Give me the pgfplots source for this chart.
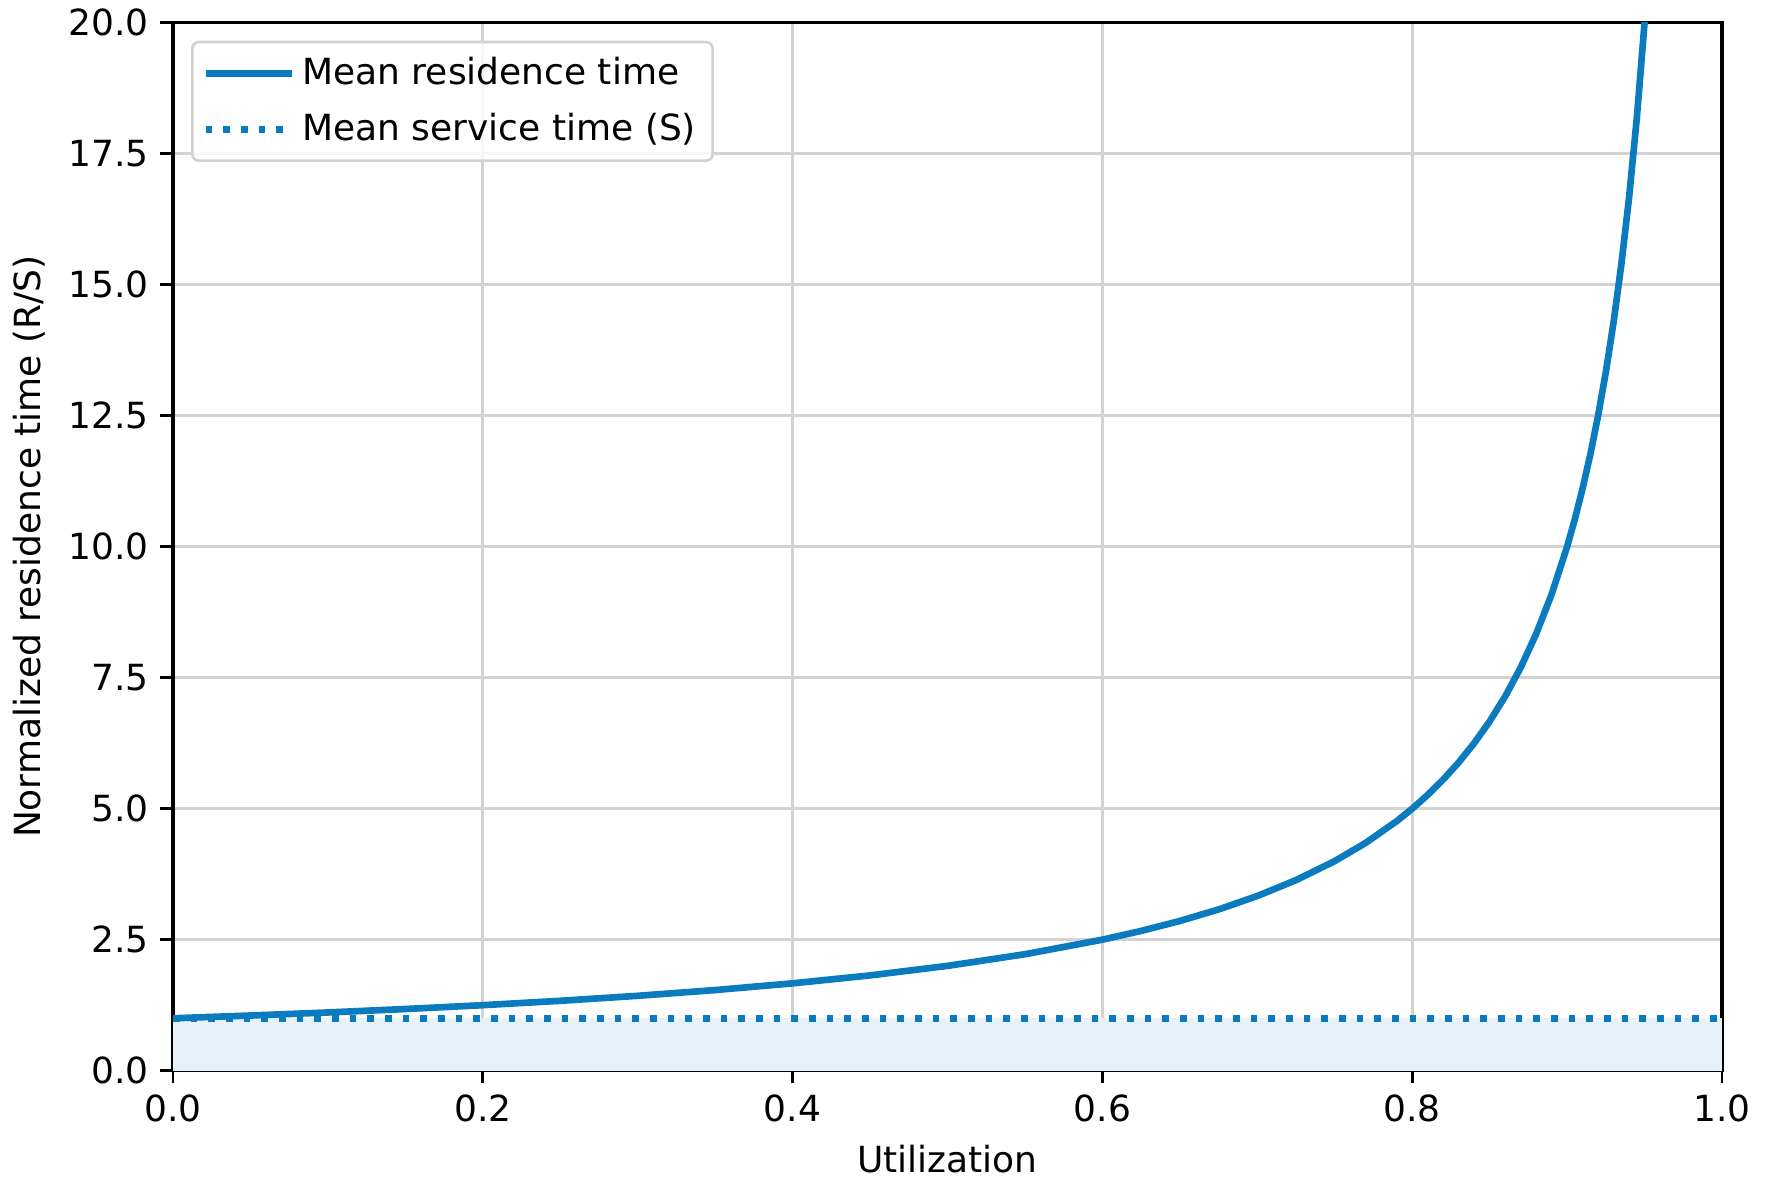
\documentclass[border=0pt]{standalone}
\usepackage{pgfplots}
\pgfplotsset{compat=1.18}
\usepackage{fontspec}
\setmainfont{DejaVu Sans}
\definecolor{mblue}{HTML}{0A7BBE}
\definecolor{gridc}{HTML}{D3D3D3}
\definecolor{fillc}{HTML}{E6F1F8}
\begin{document}
\begin{tikzpicture}
\begin{axis}[
  at={(0,0)}, anchor=south west,
  width=464.7pt, height=314.4pt, scale only axis,
  xmin=0, xmax=1, ymin=0, ymax=20,
  xtick={0,0.2,0.4,0.6,0.8,1.0},
  ytick={0,2.5,5,7.5,10,12.5,15,17.5,20},
  xticklabel style={/pgf/number format/.cd, fixed, fixed zerofill, precision=1},
  yticklabel style={/pgf/number format/.cd, fixed, fixed zerofill, precision=1},
  /pgf/number format/assume math mode=true,
  ticklabel style={font=\fontsize{10.8}{13}\selectfont},
  tick align=outside, major tick length=3.8pt,
  tick style={black, line width=0.8pt},
  xtick pos=bottom, ytick pos=left,
  grid=major, major grid style={gridc, line width=0.8pt},
  axis line style={black, line width=1pt},
  xlabel={Utilization}, ylabel={Normalized residence time (R/S)},
  label style={font=\fontsize{10.8}{13}\selectfont},
  title={Residence time vs Utilization},
  title style={font=\fontsize{13}{15}\selectfont, yshift=-1pt},
  legend style={at={(0,1)}, anchor=north west, xshift=5.4pt, yshift=-5.4pt,
    draw=black!18, line width=0.8pt, rounded corners=2pt, fill=white, fill opacity=0.8, text opacity=1,
    font=\fontsize{10.8}{13}\selectfont, inner xsep=3pt, inner ysep=2.6pt,
    row sep=3pt, cells={anchor=west}},
  legend image code/.code={\draw[#1] (0pt,0pt) -- (21.6pt,0pt); \path (0pt,0pt) -- (26pt,0pt);},
  clip=true,
]
\addplot[fill=fillc, draw=none, forget plot] coordinates {(0,0) (1,0) (1,1) (0,1)} -- cycle;
\addplot[mblue, line width=2pt] coordinates {
(0,1.0) (0.05,1.0526) (0.1,1.1111) (0.15,1.1765) (0.2,1.25) (0.25,1.3333)
(0.3,1.4286) (0.35,1.5385) (0.4,1.6667) (0.45,1.8182) (0.5,2.0) (0.55,2.2222)
(0.6,2.5) (0.625,2.6667) (0.65,2.8571) (0.675,3.0769) (0.7,3.3333) (0.725,3.6364)
(0.75,4.0) (0.77,4.3478) (0.79,4.7619) (0.8,5.0) (0.81,5.2632) (0.82,5.5556)
(0.83,5.8824) (0.84,6.25) (0.85,6.6667) (0.86,7.1429) (0.87,7.6923) (0.88,8.3333)
(0.89,9.0909) (0.9,10.0) (0.905,10.5263) (0.91,11.1111) (0.915,11.7647) (0.92,12.5)
(0.925,13.3333) (0.93,14.2857) (0.935,15.3846) (0.94,16.6667) (0.945,18.1818)
(0.95,20.0) (0.955,22.2222)};
\addlegendentry{Mean residence time}
\addplot[mblue, line width=2pt, dash pattern=on 2pt off 3.3pt] coordinates {(0,1) (1,1)};
\addlegendentry{Mean service time (S)}
\end{axis}
\pgfresetboundingbox
\path[use as bounding box] (-51.9pt,-35.1pt) rectangle (479.7pt,321.2pt);
\end{tikzpicture}
\end{document}
